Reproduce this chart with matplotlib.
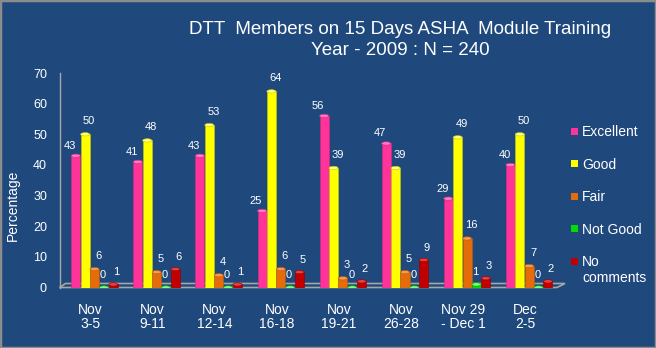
import numpy as np
import matplotlib
matplotlib.use('Agg')
import matplotlib.pyplot as plt
from matplotlib.patches import Ellipse, Rectangle, Polygon
from matplotlib.transforms import ScaledTranslation

plt.rcParams['font.family'] = ['Liberation Sans', 'DejaVu Sans']

periods = ['Nov\n3-5', 'Nov\n9-11', 'Nov\n12-14', 'Nov\n16-18', 'Nov\n19-21',
           'Nov\n26-28', 'Nov 29\n- Dec 1', 'Dec\n2-5']
series = ['Excellent', 'Good', 'Fair', 'Not Good', 'No\ncomments']
excellent = [43, 41, 43, 25, 56, 47, 29, 40]
good = [50, 48, 53, 64, 39, 39, 49, 50]
fair = [6, 5, 4, 6, 3, 5, 16, 7]
not_good = [0, 0, 0, 0, 0, 0, 1, 0]
no_comments = [1, 6, 1, 5, 2, 9, 3, 2]
values = [excellent, good, fair, not_good, no_comments]

colors = ['#FF3399', '#FFFF00', '#E46C0A', '#00DD00', '#C00000']
caps = ['#FF7AC0', '#FFFF80', '#F59A50', '#7CFF7C', '#E84040']
edges = ['#D42A84', '#C8C800', '#B85A08', '#00A000', '#900000']
# label offsets in pixels (dx, dy) per series
offs = [(-6, 10), (4, 13), (4, 13), (-1, 12), (3, 12)]

BG = '#1F497D'
W, H = 656, 348

fig = plt.figure(figsize=(6.56, 3.48), dpi=100, facecolor=BG)
fig.patches.append(Rectangle((0, 0), 1, 1, transform=fig.transFigure, fill=False,
                             edgecolor='#8C8C8C', lw=2.5))

ax = fig.add_axes([59.5 / W, 1 - 287.5 / H, (557 - 59.5) / W, (287.5 - 73) / H])
ax.set_facecolor(BG)

x = np.arange(len(periods))
pitch = 0.151
width = 0.146
ax.set_xlim(-0.564, 7.448)
ax.set_ylim(0, 70)

# floor
fl = Polygon([(0, 0), (1, 0), (1 + 8 / 497.5, 4 / 214.5), (6 / 497.5, 4 / 214.5)],
             closed=True, transform=ax.transAxes, facecolor='none',
             edgecolor='#A6A6A6', lw=1.2, clip_on=False, zorder=1)
ax.add_patch(fl)

for i, vals in enumerate(values):
    pos = x + (i - 2) * pitch
    ax.bar(pos, vals, width, color=colors[i], edgecolor=edges[i], linewidth=0.4, zorder=2)
    for px, v in zip(pos, vals):
        ax.add_patch(Ellipse((px, v), width, 1.1, facecolor=caps[i],
                             edgecolor=edges[i], lw=0.4, zorder=3))
        dx, dy = offs[i]
        ax.annotate(str(v), (px, v), xytext=(dx * 0.72, dy * 0.72),
                    textcoords='offset points', ha='center', va='center',
                    color='white', fontsize=8, zorder=4)

ax.set_yticks(range(0, 71, 10))
ax.set_xticks(x)
ax.set_xticklabels(periods, fontsize=10, color='white', linespacing=1.0)
ax.tick_params(axis='y', length=0, pad=9, labelsize=9, labelcolor='white')
ax.tick_params(axis='x', length=0, pad=11)
shift = ScaledTranslation(-4 / 100, 0, fig.dpi_scale_trans)
for lbl in ax.get_xticklabels():
    lbl.set_transform(lbl.get_transform() + shift)

for s in ['top', 'right', 'bottom']:
    ax.spines[s].set_visible(False)
ax.spines['left'].set_color('#A6A6A6')
ax.spines['left'].set_linewidth(1)

ax.set_ylabel('Percentage', color='white', fontsize=10)
ax.yaxis.set_label_coords(-0.08, 0.385)

# title
fig.text(400 / W, 1 - 34 / H, 'DTT  Members on 15 Days ASHA  Module Training',
         ha='center', va='baseline', color='white', fontsize=13.5)
fig.text(400 / W, 1 - 55 / H, 'Year - 2009 : N = 240',
         ha='center', va='baseline', color='white', fontsize=13.5)

# legend
for i, name in enumerate(series):
    yc = 131 + i * 32.6
    fig.patches.append(Rectangle((571 / W, 1 - (yc + 3.5) / H), 7 / W, 7 / H,
                                 transform=fig.transFigure, facecolor=colors[i],
                                 edgecolor='none'))
    base = yc + 5 + name.count('\n') * 15.4
    fig.text(582 / W, 1 - base / H, name, ha='left', va='baseline',
             color='white', fontsize=10, linespacing=1.2)

fig.savefig('out.png', dpi=100, facecolor=BG)
